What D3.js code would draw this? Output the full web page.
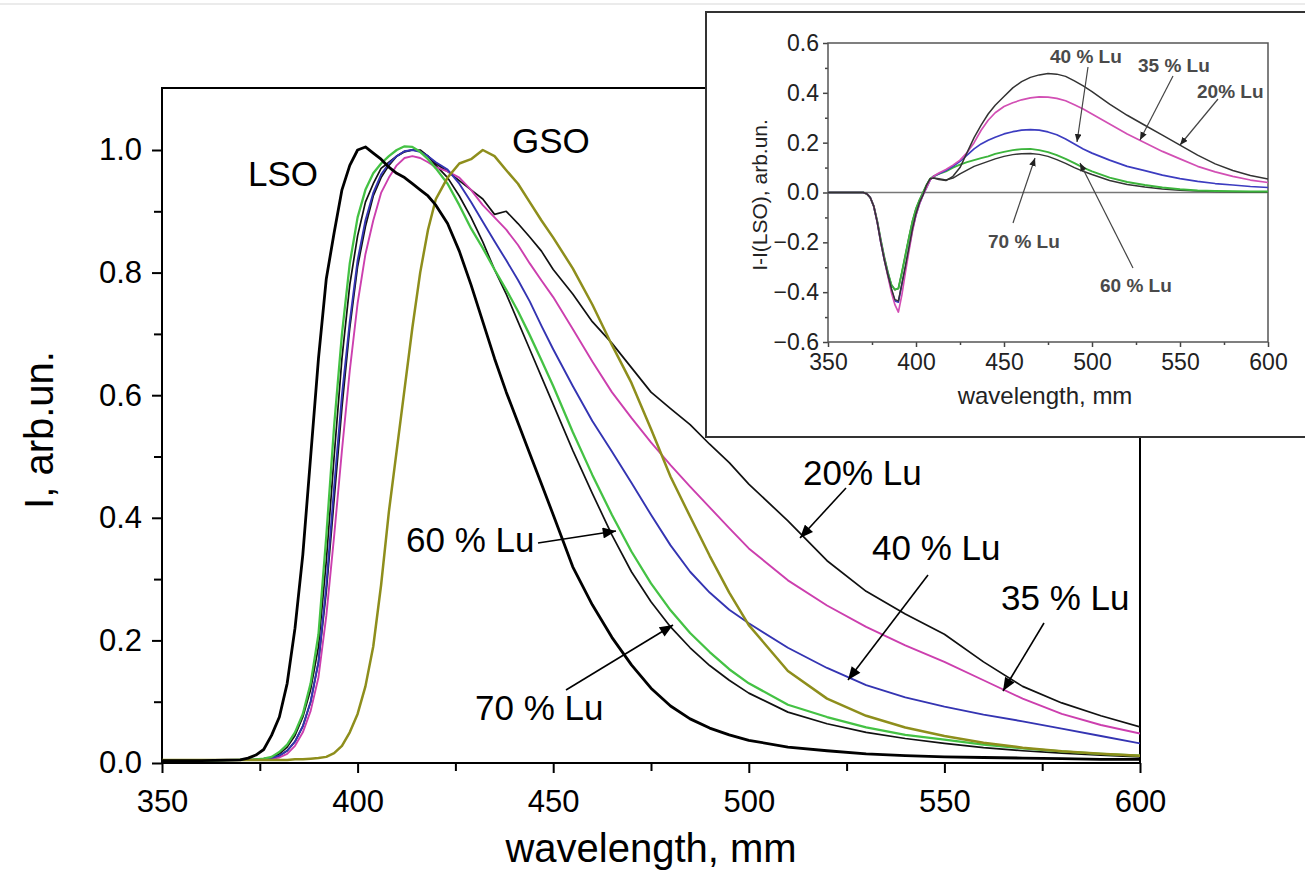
<!DOCTYPE html>
<html><head><meta charset="utf-8">
<script src="https://cdn.jsdelivr.net/npm/d3@7"></script>
<style>
body{margin:0;background:#fff}
svg{display:block}
text{font-family:"Liberation Sans",Arial,Helvetica,sans-serif}
</style></head>
<body><svg id="c" width="1305" height="876"></svg>
<script>
// ---------- main chart data ----------
const mainWl = [350,360,370,372,374,376,378,380,382,384,386,388,390,392,394,396,398,400,402,404,406,408,410,412,414,416,418,420,423,426,429,432,435,438,441,444,447,450,455,460,465,470,475,480,485,490,495,500,510,520,530,540,550,560,570,580,590,600];
const lso  = [0.004,0.004,0.005,0.008,0.013,0.022,0.045,0.075,0.13,0.22,0.34,0.5,0.66,0.79,0.865,0.935,0.975,1.0,1.005,0.995,0.985,0.972,0.962,0.955,0.945,0.935,0.925,0.91,0.88,0.835,0.78,0.72,0.66,0.605,0.555,0.505,0.455,0.405,0.32,0.258,0.205,0.16,0.122,0.093,0.072,0.057,0.046,0.037,0.026,0.02,0.015,0.012,0.01,0.009,0.008,0.007,0.006,0.006];
const lu60 = [0.004,0.004,0.005,0.005,0.006,0.007,0.01,0.018,0.03,0.05,0.08,0.13,0.21,0.37,0.55,0.7,0.815,0.89,0.935,0.962,0.978,0.99,1.0,1.006,1.005,0.997,0.985,0.97,0.945,0.91,0.872,0.84,0.805,0.772,0.737,0.698,0.657,0.615,0.54,0.47,0.405,0.345,0.293,0.249,0.212,0.181,0.153,0.13,0.095,0.075,0.058,0.046,0.038,0.03,0.024,0.019,0.015,0.012];
const lu70 = [0.004,0.004,0.005,0.005,0.006,0.007,0.009,0.015,0.026,0.045,0.075,0.12,0.19,0.33,0.5,0.66,0.78,0.86,0.915,0.945,0.97,0.98,0.99,0.997,1.0,1.0,0.99,0.975,0.955,0.925,0.89,0.85,0.805,0.765,0.72,0.675,0.63,0.585,0.51,0.44,0.372,0.312,0.263,0.222,0.188,0.159,0.135,0.114,0.083,0.064,0.05,0.04,0.032,0.025,0.02,0.016,0.013,0.01];
const lu40 = [0.004,0.004,0.005,0.005,0.005,0.006,0.008,0.012,0.02,0.035,0.06,0.1,0.165,0.29,0.45,0.6,0.72,0.82,0.885,0.93,0.96,0.978,0.99,0.998,1.0,0.997,0.99,0.98,0.968,0.945,0.915,0.883,0.851,0.82,0.788,0.753,0.713,0.675,0.615,0.558,0.508,0.457,0.405,0.355,0.312,0.278,0.25,0.228,0.188,0.155,0.127,0.107,0.092,0.079,0.068,0.056,0.044,0.032];
const lu35 = [0.004,0.004,0.005,0.005,0.005,0.006,0.007,0.009,0.015,0.028,0.05,0.085,0.14,0.24,0.37,0.51,0.64,0.75,0.83,0.885,0.93,0.955,0.975,0.987,0.99,0.987,0.98,0.972,0.965,0.955,0.935,0.91,0.89,0.87,0.845,0.815,0.787,0.76,0.708,0.655,0.605,0.563,0.523,0.486,0.451,0.417,0.383,0.35,0.298,0.257,0.222,0.192,0.165,0.135,0.105,0.08,0.062,0.048];
const lu20 = [0.004,0.004,0.005,0.005,0.005,0.006,0.008,0.012,0.02,0.035,0.06,0.1,0.165,0.28,0.43,0.58,0.71,0.81,0.875,0.925,0.955,0.975,0.99,0.998,1.0,0.998,0.99,0.978,0.965,0.95,0.935,0.92,0.895,0.9,0.88,0.858,0.835,0.805,0.765,0.72,0.685,0.645,0.605,0.578,0.552,0.52,0.49,0.455,0.395,0.33,0.28,0.243,0.21,0.165,0.125,0.098,0.077,0.059];
const gso  = [0.005,0.005,0.005,0.005,0.005,0.005,0.005,0.005,0.005,0.006,0.006,0.007,0.008,0.01,0.016,0.028,0.05,0.08,0.125,0.19,0.29,0.41,0.51,0.61,0.71,0.8,0.87,0.92,0.955,0.978,0.985,1.0,0.99,0.967,0.945,0.915,0.885,0.857,0.807,0.748,0.682,0.62,0.545,0.467,0.402,0.338,0.278,0.225,0.15,0.105,0.077,0.058,0.044,0.033,0.025,0.019,0.015,0.012];

const mainXTicks = [350,400,450,500,550,600];
const mainYTicks = [0,0.2,0.4,0.6,0.8,1.0];

// ---------- inset data (difference I - I(LSO)) ----------
const insetWl = [350,360,370,372,374,376,378,380,382,384,386,388,390,392,394,396,398,400,402,404,406,408,410,413,417,421,425,429,433,437,441,445,450,455,460,465,470,475,480,485,490,495,500,510,520,530,540,550,560,570,580,590,600];
const d20 = [0,0,0,-0.005,-0.02,-0.055,-0.12,-0.2,-0.27,-0.33,-0.385,-0.43,-0.435,-0.365,-0.295,-0.22,-0.145,-0.085,-0.04,-0.01,0.03,0.055,0.058,0.052,0.048,0.065,0.1,0.16,0.22,0.27,0.315,0.35,0.385,0.42,0.445,0.462,0.472,0.478,0.475,0.466,0.448,0.428,0.405,0.355,0.31,0.27,0.23,0.19,0.15,0.115,0.088,0.068,0.054];
const d35 = [0,0,0,-0.005,-0.02,-0.055,-0.12,-0.2,-0.27,-0.335,-0.4,-0.45,-0.48,-0.41,-0.32,-0.235,-0.155,-0.09,-0.045,-0.01,0.02,0.05,0.065,0.078,0.092,0.11,0.13,0.16,0.2,0.25,0.29,0.32,0.345,0.36,0.372,0.38,0.384,0.383,0.378,0.368,0.352,0.335,0.315,0.275,0.235,0.2,0.165,0.135,0.105,0.083,0.065,0.05,0.04];
const d40 = [0,0,0,-0.005,-0.02,-0.055,-0.12,-0.2,-0.27,-0.33,-0.39,-0.435,-0.44,-0.37,-0.3,-0.225,-0.15,-0.09,-0.045,-0.01,0.02,0.05,0.065,0.075,0.088,0.105,0.125,0.15,0.175,0.195,0.21,0.222,0.235,0.244,0.25,0.252,0.25,0.243,0.232,0.215,0.195,0.175,0.158,0.13,0.105,0.088,0.07,0.056,0.045,0.036,0.03,0.024,0.02];
const d60 = [0,0,0,-0.005,-0.02,-0.055,-0.115,-0.19,-0.26,-0.32,-0.37,-0.39,-0.385,-0.32,-0.25,-0.18,-0.115,-0.065,-0.03,0.0,0.03,0.055,0.065,0.075,0.085,0.1,0.112,0.122,0.13,0.138,0.145,0.155,0.163,0.17,0.174,0.175,0.17,0.162,0.15,0.135,0.118,0.1,0.085,0.06,0.042,0.03,0.02,0.013,0.008,0.006,0.005,0.004,0.004];
const d70 = [0,0,0,-0.005,-0.02,-0.055,-0.115,-0.19,-0.26,-0.32,-0.37,-0.39,-0.385,-0.32,-0.25,-0.18,-0.115,-0.065,-0.03,0.0,0.03,0.055,0.058,0.055,0.05,0.058,0.075,0.09,0.105,0.115,0.125,0.135,0.145,0.152,0.156,0.157,0.153,0.145,0.132,0.117,0.1,0.085,0.072,0.048,0.032,0.022,0.014,0.009,0.006,0.004,0.003,0.002,0.002];

const insetXTicks = [350,400,450,500,550,600];
const insetYTicks = [-0.6,-0.4,-0.2,0,0.2,0.4,0.6];

// ---------- drawing ----------
const svg = d3.select("#c");
const x = d3.scaleLinear().domain([350,600]).range([162,1140]);
const y = d3.scaleLinear().domain([0,1.1]).range([763,88.7]);

svg.append("defs").html(`
 <clipPath id="mclip"><rect x="162" y="88" width="978" height="676"/></clipPath>
 <clipPath id="iclip"><rect x="828" y="43" width="440" height="299"/></clipPath>
 <marker id="arrM" viewBox="0 0 12 10" refX="12" refY="5" markerWidth="14" markerHeight="11" markerUnits="userSpaceOnUse" orient="auto"><path d="M0,0 L12,5 L0,10 Z" fill="#000"/></marker>
 <marker id="arrI" viewBox="0 0 12 10" refX="12" refY="5" markerWidth="8" markerHeight="7" markerUnits="userSpaceOnUse" orient="auto"><path d="M0,0 L12,5 L0,10 Z" fill="#222"/></marker>
`);

// faint top border line present in the source figure
svg.append("line").attr("x1",0).attr("x2",1305).attr("y1",4).attr("y2",4)
  .attr("stroke","#e4e4e4").attr("stroke-width",1.5);

// main axes
const fmt = d3.format(".1f");
const gy = svg.append("g").attr("transform","translate(162,0)")
  .call(d3.axisLeft(y).tickValues(mainYTicks).tickSize(10).tickPadding(10).tickFormat(fmt));
const gyMinor = svg.append("g").attr("transform","translate(162,0)")
  .call(d3.axisLeft(y).tickValues([0.1,0.3,0.5,0.7,0.9]).tickSize(8).tickFormat(""));
const gx = svg.append("g").attr("transform","translate(0,763)")
  .call(d3.axisBottom(x).tickValues(mainXTicks).tickSize(10).tickPadding(17).tickFormat(d3.format("d")));
const gxMinor = svg.append("g").attr("transform","translate(0,763)")
  .call(d3.axisBottom(x).tickValues([375,425,475,525,575]).tickSize(8).tickFormat(""));
[gy,gyMinor,gx,gxMinor].forEach(g=>{
  g.select(".domain").remove();
  g.selectAll("line").attr("stroke","#000").attr("stroke-width",2);
  g.selectAll("text").attr("font-size",31).attr("fill","#000").attr("font-family","'Liberation Sans',Arial,sans-serif");
});
svg.append("rect").attr("x",162).attr("y",88).attr("width",978).attr("height",675)
  .attr("fill","none").attr("stroke","#000").attr("stroke-width",2);

svg.append("text").attr("x",651).attr("y",862).attr("text-anchor","middle")
  .attr("font-size",40).text("wavelength, mm");
svg.append("text").attr("transform","translate(53,430) rotate(-90)").attr("text-anchor","middle")
  .attr("font-size",40).text("I, arb.un.");

// main lines
const mainSeries = [
  {v:lu20, c:"#111", w:1.7},
  {v:lu70, c:"#111", w:1.7},
  {v:lu35, c:"#cc3fae", w:1.9},
  {v:lu40, c:"#3434b2", w:1.9},
  {v:lu60, c:"#44c244", w:2.3},
  {v:gso,  c:"#8e8e1c", w:2.5},
  {v:lso,  c:"#000", w:2.8}
];
const line = d3.line().x(d=>x(d[0])).y(d=>y(d[1]));
const mg = svg.append("g").attr("clip-path","url(#mclip)");
mainSeries.forEach(s=>{
  mg.append("path").datum(mainWl.map((w,i)=>[w,s.v[i]]))
    .attr("d",line).attr("fill","none").attr("stroke",s.c).attr("stroke-width",s.w)
    .attr("stroke-linejoin","round");
});

// main labels and arrows
const mainLabels = [
  {t:"LSO", x:248, y:186},
  {t:"GSO", x:512, y:153},
  {t:"20% Lu", x:803, y:485},
  {t:"40 % Lu", x:872, y:560},
  {t:"35 % Lu", x:1001, y:610},
  {t:"60 % Lu", x:406, y:552},
  {t:"70 % Lu", x:475, y:720}
];
mainLabels.forEach(l=>svg.append("text").attr("x",l.x).attr("y",l.y).attr("font-size",35).text(l.t));
const mainArrows = [
  [538,543,616,531],[566,690,673,625],[846,488,800,538],[928,575,848,680],[1044,623,1003,691]
];
mainArrows.forEach(a=>svg.append("line").attr("x1",a[0]).attr("y1",a[1]).attr("x2",a[2]).attr("y2",a[3])
  .attr("stroke","#000").attr("stroke-width",1.6).attr("marker-end","url(#arrM)"));

// ---------- inset ----------
svg.append("rect").attr("x",706).attr("y",12).attr("width",640).attr("height",425)
  .attr("fill","#fff").attr("stroke","#333").attr("stroke-width",2);
const ix = d3.scaleLinear().domain([350,600]).range([828,1268]);
const iy = d3.scaleLinear().domain([-0.6,0.6]).range([342,43]);

const iyA = svg.append("g").attr("transform","translate(828,0)")
  .call(d3.axisLeft(iy).tickValues(insetYTicks).tickSize(5).tickPadding(4).tickFormat(fmt));
const iyM = svg.append("g").attr("transform","translate(828,0)")
  .call(d3.axisLeft(iy).tickValues([-0.5,-0.3,-0.1,0.1,0.3,0.5]).tickSize(3).tickFormat(""));
const ixA = svg.append("g").attr("transform","translate(0,342)")
  .call(d3.axisBottom(ix).tickValues(insetXTicks).tickSize(5).tickPadding(7).tickFormat(d3.format("d")));
const ixM = svg.append("g").attr("transform","translate(0,342)")
  .call(d3.axisBottom(ix).tickValues([375,425,475,525,575]).tickSize(3).tickFormat(""));
[iyA,iyM,ixA,ixM].forEach(g=>{
  g.select(".domain").remove();
  g.selectAll("line").attr("stroke","#444").attr("stroke-width",1.5);
  g.selectAll("text").attr("font-size",23).attr("fill","#222").attr("font-family","'Liberation Sans',Arial,sans-serif");
});
svg.append("rect").attr("x",828).attr("y",43).attr("width",440).attr("height",299)
  .attr("fill","none").attr("stroke","#555").attr("stroke-width",1.5);
svg.append("line").attr("x1",828).attr("x2",1268).attr("y1",iy(0)).attr("y2",iy(0))
  .attr("stroke","#777").attr("stroke-width",1.5);

svg.append("text").attr("x",1045).attr("y",404).attr("text-anchor","middle")
  .attr("font-size",24).attr("fill","#222").text("wavelength, mm");
svg.append("text").attr("transform","translate(767,195) rotate(-90)").attr("text-anchor","middle")
  .attr("font-size",21).attr("fill","#222").text("I-I(LSO), arb.un.");

const insetSeries = [
  {v:d70, c:"#333", w:1.5},
  {v:d60, c:"#3cb43c", w:1.9},
  {v:d40, c:"#3c3cc0", w:1.7},
  {v:d35, c:"#d24fb4", w:1.7},
  {v:d20, c:"#333", w:1.5}
];
const iline = d3.line().x(d=>ix(d[0])).y(d=>iy(d[1]));
const ig = svg.append("g").attr("clip-path","url(#iclip)");
insetSeries.forEach(s=>{
  ig.append("path").datum(insetWl.map((w,i)=>[w,s.v[i]]))
    .attr("d",iline).attr("fill","none").attr("stroke",s.c).attr("stroke-width",s.w)
    .attr("stroke-linejoin","round");
});

const insetLabels = [
  {t:"40 % Lu", x:1050, y:63},
  {t:"35 % Lu", x:1138, y:72},
  {t:"20% Lu", x:1197, y:98},
  {t:"70 % Lu", x:988, y:248},
  {t:"60 % Lu", x:1100, y:292}
];
insetLabels.forEach(l=>svg.append("text").attr("x",l.x).attr("y",l.y).attr("font-size",19)
  .attr("font-weight","bold").attr("fill","#4a4a4a").text(l.t));
const insetArrows = [
  [1088,67,1077,142],[1173,76,1140,140],[1218,99,1180,145],[1013,223,1035,158],[1133,268,1080,163]
];
insetArrows.forEach(a=>svg.append("line").attr("x1",a[0]).attr("y1",a[1]).attr("x2",a[2]).attr("y2",a[3])
  .attr("stroke","#444").attr("stroke-width",1.2).attr("marker-end","url(#arrI)"));
</script>
</body></html>
